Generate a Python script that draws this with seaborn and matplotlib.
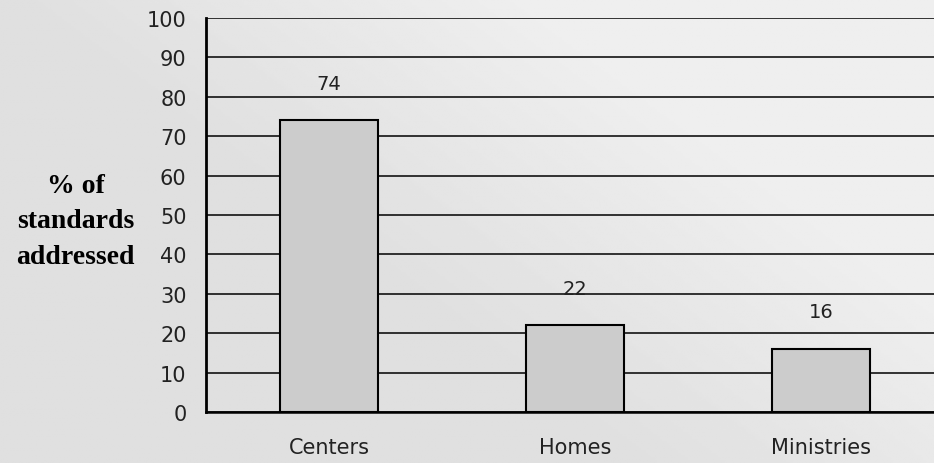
import numpy as np
import pandas as pd
import matplotlib
matplotlib.use("Agg")
import matplotlib.pyplot as plt
import seaborn as sns

categories = ["Centers", "Homes", "Ministries"]
values = [74, 22, 16]
y_ticks = [0, 10, 20, 30, 40, 50, 60, 70, 80, 90, 100]

df = pd.DataFrame({"category": categories, "value": values})

sns.set_style("white")
plt.rcParams["font.family"] = ["DejaVu Sans"]

fig = plt.figure(figsize=(9.34, 4.64), dpi=100)

# gray background with a lighter diagonal band
bg = fig.add_axes([0, 0, 1, 1], zorder=-10)
yy, xx = np.mgrid[0:1:200j, 0:1:400j]
d = (xx * 0.9 + (1 - yy) * 0.6)
shade = 0.875 + 0.06 * np.clip((d - 0.6) / 0.5, 0, 1)
bg.imshow(shade, cmap="gray", vmin=0, vmax=1, aspect="auto", extent=[0, 1, 0, 1])
bg.axis("off")

ax = fig.add_axes([0.2206, 0.1099, 0.7794, 0.8491])
ax.patch.set_alpha(0)

sns.barplot(data=df, x="category", y="value", color="#cccccc", width=0.4,
            edgecolor="black", linewidth=1.5, saturation=1, ax=ax, zorder=3)

for i, v in enumerate(values):
    ax.annotate(str(v), (i, v), xytext=(0, 20), textcoords="offset points",
                ha="center", va="bottom", fontsize=14, color="#222222")

ax.set_ylim(0, 100)
ax.set_xlim(-0.5, 2.46)
ax.set_yticks(y_ticks)
ax.yaxis.grid(True, color="black", linewidth=1.1, zorder=0)
ax.set_axisbelow(True)

ax.set_xticks([0.5, 1.5], minor=False)
ax.set_xticks([0, 1, 2], minor=True)
ax.set_xticklabels([])
ax.set_xticklabels(categories, minor=True)
ax.tick_params(axis="x", which="minor", length=0, pad=18, labelsize=15, labelcolor="#222222")
ax.tick_params(axis="x", which="major", length=5, width=1.5, direction="out", color="black")
ax.tick_params(axis="y", length=7, width=1.5, direction="out", color="black",
               labelsize=15, labelcolor="#222222", pad=7)

for s in ["top", "right"]:
    ax.spines[s].set_visible(False)
ax.spines["left"].set_linewidth(2)
ax.spines["left"].set_color("black")
ax.spines["bottom"].set_linewidth(1.8)
ax.spines["bottom"].set_color("black")

ax.set_xlabel("")
ax.set_ylabel("")
fig.text(0.081, 0.522, "% of\nstandards\naddressed", ha="center", va="center",
         family="Liberation Serif", fontweight="bold", fontsize=20, linespacing=1.55,
         color="black")

fig.savefig("out.png", dpi=100)
